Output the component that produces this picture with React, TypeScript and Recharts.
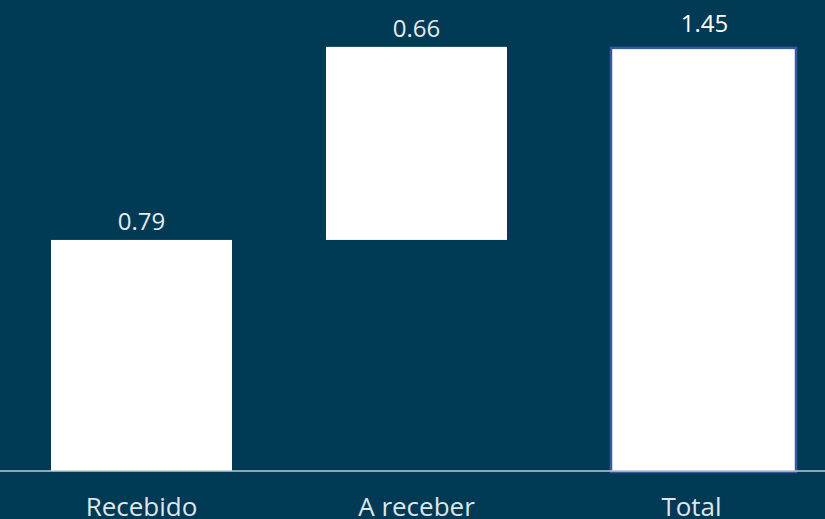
import React from 'react';
import { BarChart, Bar, XAxis, YAxis, LabelList } from 'recharts';

const categories = ['Recebido', 'A receber', 'Total'];
const baseValues = [0, 0.79, 0];
const stepValues = [0.79, 0.66, 1.45];

const data = categories.map((name, i) => ({
  name,
  base: baseValues[i],
  value: stepValues[i],
}));

const BG = '#013a54';
const TOTAL_SHIFT = 10;

// Total bar sits a bit to the right of its tick in the original and has a blue outline
const StepShape = (props: any) => {
  const { x, y, width, height, index } = props;
  if (index === 2) {
    return (
      <rect
        x={x + TOTAL_SHIFT}
        y={y + 1}
        width={width + 4}
        height={height}
        fill="#ffffff"
        stroke="#3a5a9e"
        strokeWidth={2.5}
      />
    );
  }
  return <rect x={x} y={y} width={width} height={height} fill="#ffffff" />;
};

const ValueLabel = (props: any) => {
  const { x, y, width, value, index } = props;
  const isTotal = index === 2;
  return (
    <text
      x={x + width / 2 + (isTotal ? TOTAL_SHIFT + 3 : 0)}
      y={y - (isTotal ? 15 : 10)}
      textAnchor="middle"
      fill={isTotal ? '#ffffff' : '#e4eaee'}
      fontSize={24}
      fontFamily="'Open Sans', sans-serif"
    >
      {Number(value).toFixed(2)}
    </text>
  );
};

export default function App() {
  return (
    <div
      style={{
        position: 'absolute',
        left: 0,
        top: 0,
        width: 825,
        height: 519,
        background: BG,
        overflow: 'hidden',
      }}
    >
      <BarChart
        width={829}
        height={519}
        data={data}
        margin={{ top: 3, right: 0, left: 0, bottom: 0 }}
        barSize={181}
      >
        <XAxis
          dataKey="name"
          height={48}
          padding={{ left: 4, right: 0 }}
          axisLine={{ stroke: '#c3cacd', strokeWidth: 1.5 }}
          tickLine={false}
          tickSize={0}
          tickMargin={27}
          tick={{ fill: '#dfe5e9', fontSize: 26, fontFamily: "'Open Sans', sans-serif" }}
          interval={0}
        />
        <YAxis hide domain={[0, 1.6]} />
        <Bar dataKey="base" stackId="w" fill="transparent" isAnimationActive={false} />
        <Bar dataKey="value" stackId="w" shape={StepShape} isAnimationActive={false}>
          <LabelList dataKey="value" content={ValueLabel} />
        </Bar>
      </BarChart>
    </div>
  );
}
